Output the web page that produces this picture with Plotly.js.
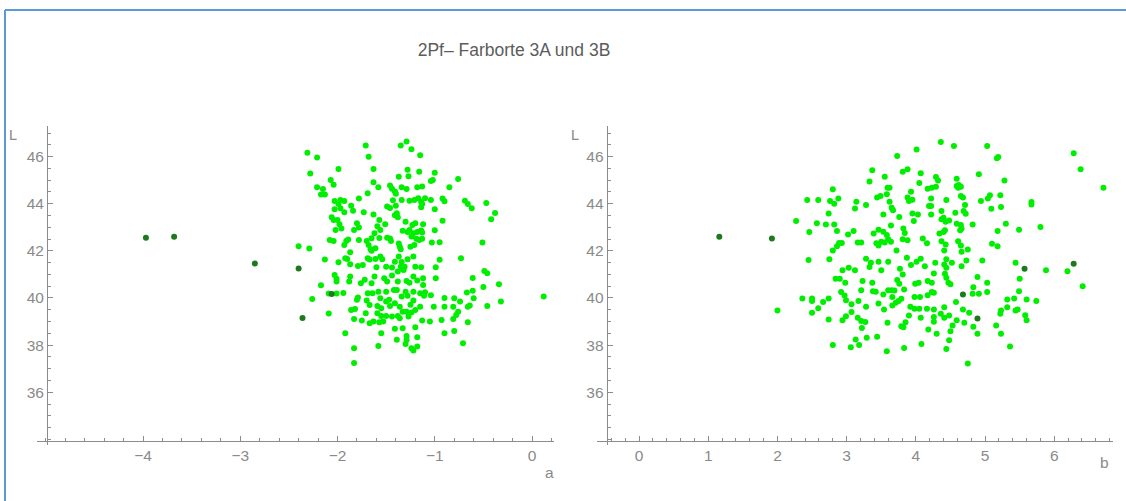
<!DOCTYPE html>
<html>
<head>
<meta charset="utf-8">
<script src="https://cdn.plot.ly/plotly-3.0.1.min.js"></script>
<style>html,body{margin:0;padding:0;background:#fff;}#chart{width:1126px;height:501px;}</style>
</head>
<body>
<div id="chart"></div>
<script>
// ---------- data: left panel (a vs L) ----------
const leftA = [
-1.29,-1.35,-1.71,-1.24,-2.31,-2.21,-1.68,-1.15,-2.28,-1.99,
-1.63,-1.28,-1.16,-1.00,-1.37,-1.27,-0.76,-2.07,-2.04,-2.21,
-2.15,-2.17,-2.13,-1.63,-1.58,-1.46,-1.44,-1.34,-1.29,-1.18,
-1.13,-1.04,-1.02,-0.85,-1.69,-1.41,-1.40,-1.78,-2.03,-1.97,
-1.93,-1.99,-1.86,-1.84,-2.03,-1.97,-1.93,-1.43,-1.34,-1.26,
-1.21,-1.17,-1.14,-1.13,-1.10,-1.04,-0.92,-0.90,-1.00,-0.69,
-0.66,-0.62,-0.47,-0.38,-0.42,-1.73,-1.63,-1.49,-1.46,-1.40,
-1.41,-1.39,-1.38,-1.14,-2.06,-2.04,-2.00,-1.98,-1.96,-2.02,
-1.83,-1.78,-1.80,-1.57,-1.51,-1.56,-1.59,-1.62,-1.65,-1.30,
-1.23,-1.20,-1.12,-1.26,-1.33,-1.28,-1.22,-1.18,-1.14,-1.13,
-0.92,-1.00,-1.24,-2.04,-2.08,-1.91,-1.89,-1.93,-1.78,-1.70,
-1.68,-1.66,-1.61,-1.57,-1.49,-1.46,-1.45,-1.37,-1.36,-1.35,
-1.19,-1.16,-1.13,-1.21,-1.25,-1.03,-0.95,-0.51,-2.40,-2.29,
-2.13,-1.99,-1.90,-1.87,-1.92,-1.87,-1.79,-1.74,-1.69,-1.65,
-1.67,-1.61,-1.56,-1.54,-1.60,-1.50,-1.44,-1.41,-1.37,-1.34,
-1.35,-1.31,-1.33,-1.28,-1.22,-1.20,-1.14,-0.99,-0.95,-0.73,
-0.49,-0.46,-2.03,-2.01,-2.01,-1.87,-1.88,-1.76,-1.72,-1.65,
-1.62,-1.52,-1.49,-1.44,-1.38,-1.38,-1.32,-1.29,-1.26,-1.22,
-1.18,-1.12,-1.12,-0.99,-0.61,-0.50,-0.34,-2.17,-2.26,-2.09,
-2.01,-1.94,-1.79,-1.69,-1.64,-1.58,-1.50,-1.42,-1.39,-1.30,
-1.22,-1.15,-1.10,-1.04,-1.80,-1.70,-1.56,-1.47,-1.34,-1.28,
-1.22,-1.11,-0.90,-0.80,-0.67,-0.61,-0.60,-0.32,0.12,-0.46,
-0.81,-1.86,-1.82,-1.71,-1.67,-1.59,-1.55,-1.50,-1.46,-1.41,
-1.36,-1.25,-1.20,-1.15,-1.01,-0.90,-0.74,-0.66,-0.64,-0.76,
-0.78,-2.09,-1.83,-1.75,-1.67,-1.63,-1.57,-1.53,-1.59,-1.55,
-1.50,-1.44,-1.38,-1.33,-1.29,-1.24,-1.27,-1.36,-1.41,-1.33,
-1.20,-1.13,-1.05,-0.93,-0.81,-0.66,-0.90,-0.80,-1.92,-1.55,
-1.39,-1.29,-1.29,-1.18,-1.30,-1.24,-1.22,-1.18,-1.58,-1.83,-1.83,-0.71
];
const leftL = [
46.64,46.47,46.47,46.31,46.16,45.96,46.00,46.06,45.28,45.48,
45.48,45.44,45.36,45.32,45.15,45.17,45.05,45.01,44.81,44.70,
44.63,44.39,44.39,44.91,44.70,44.77,44.64,44.70,44.63,44.70,
44.73,44.97,45.01,44.70,44.45,44.52,44.42,44.22,44.12,44.16,
44.12,43.99,43.92,43.70,43.77,43.81,43.64,44.15,44.16,44.13,
44.16,44.23,44.09,43.99,44.23,44.16,44.22,44.11,43.77,44.13,
43.99,43.81,44.03,43.61,43.34,43.64,43.54,43.88,43.82,43.91,
43.51,43.60,43.43,43.85,43.43,43.31,43.31,43.13,42.95,42.89,
42.89,42.99,43.17,43.31,43.13,42.89,43.04,42.75,42.54,43.24,
43.10,43.17,43.13,42.89,42.85,42.80,42.75,42.80,42.86,42.78,
43.28,42.87,42.61,42.42,42.46,42.42,42.48,42.25,42.46,42.42,
42.25,42.07,42.11,42.55,42.56,42.53,42.42,42.31,42.18,42.07,
42.51,42.46,42.51,42.25,42.18,42.35,42.37,42.35,42.20,42.10,
41.63,41.52,41.66,41.43,41.69,41.94,41.36,41.40,41.69,42.01,
41.63,41.66,41.76,41.64,41.30,41.33,41.29,41.54,41.76,41.53,
41.33,41.33,41.23,41.64,41.76,41.33,41.30,41.30,41.62,41.69,
41.15,41.05,40.98,40.82,40.70,40.91,40.70,40.63,40.77,40.63,
40.91,40.84,40.70,40.95,40.70,41.12,41.19,40.72,40.65,40.91,
40.74,40.84,40.55,40.84,40.85,40.47,40.58,40.54,39.96,40.19,
40.19,40.21,40.02,40.20,40.20,40.27,40.27,40.34,40.34,40.26,
40.26,40.20,40.24,40.12,39.92,39.89,39.99,39.92,40.06,40.10,
39.89,40.10,40.00,39.99,40.23,40.31,39.99,39.85,40.06,39.66,
39.63,39.49,39.53,39.35,39.70,39.66,39.56,39.85,39.66,39.78,
39.63,39.71,39.49,39.63,39.63,39.63,39.85,39.63,39.68,39.42,
39.28,39.34,39.11,39.04,38.93,39.00,38.97,39.00,39.35,39.24,
39.24,39.21,39.24,39.42,39.42,39.38,39.21,39.14,38.69,38.72,
38.76,39.04,39.00,39.07,39.11,38.97,38.50,38.60,38.50,38.50,
38.23,38.39,38.22,38.33,38.05,37.87,37.77,37.94,37.96,37.87,37.24,38.08
];
const leftDarkA = [-3.97,-3.68,-2.85,-2.40,-2.06,-2.36];
const leftDarkL = [42.56,42.60,41.46,41.25,40.17,39.15];

// ---------- data: right panel (b vs L) ----------
const rightB = [
4.01,3.73,3.37,3.81,3.88,4.07,3.55,3.33,4.05,2.80,
3.59,3.62,4.17,3.93,2.43,2.59,2.76,2.82,2.88,3.14,
3.28,3.44,3.49,3.58,3.62,3.88,3.90,3.95,3.12,3.65,
3.67,4.19,2.74,3.53,3.76,3.95,4.03,2.27,2.57,2.70,
2.82,3.97,3.64,3.82,2.46,2.86,3.10,3.02,3.39,3.46,
3.53,3.58,3.84,3.60,3.64,3.55,3.50,3.43,3.46,3.81,
3.88,4.10,4.16,2.89,2.93,2.86,3.16,3.21,
4.36,4.55,5.03,5.19,5.17,6.28,6.38,6.71,4.91,5.28,
4.29,4.32,4.29,4.23,4.59,4.59,4.62,4.65,4.61,4.65,
4.68,5.22,5.07,5.04,4.94,4.22,4.44,4.71,5.23,5.09,
5.67,5.67,4.22,4.22,4.37,4.40,4.37,4.43,4.48,4.57,
4.69,4.72,4.59,4.65,4.66,4.64,4.82,5.30,5.80,5.49,
5.18,4.42,4.34,4.40,4.37,4.43,4.61,4.65,5.10,5.18,
2.80,2.75,2.45,3.72,3.87,3.28,3.35,3.46,3.60,3.33,
3.93,4.01,4.07,4.13,2.94,3.03,3.12,3.50,3.77,3.81,
2.84,2.90,2.98,3.23,3.37,3.73,3.76,3.99,4.04,4.17,
3.21,3.38,3.42,3.53,3.60,3.65,3.69,3.83,2.92,2.97,
2.99,3.07,3.17,2.36,2.50,2.50,2.66,2.74,3.46,3.66,
3.75,3.79,3.66,3.71,3.98,4.06,4.17,2.00,2.50,2.59,
2.74,2.94,2.99,3.07,3.16,3.21,3.27,3.22,3.28,3.54,
3.59,3.79,3.82,3.85,3.90,3.92,3.98,4.05,4.07,4.16,
4.18,3.13,3.29,3.44,3.18,3.06,2.80,3.58,3.83,4.08,
4.41,4.66,4.75,4.96,5.44,5.88,6.19,6.41,5.50,5.49,
5.32,5.42,5.60,5.74,5.23,5.22,5.32,5.44,5.47,5.58,
5.60,5.16,5.23,5.36,5.03,5.03,4.89,4.91,4.83,4.82,
4.73,4.66,4.52,4.44,4.41,4.44,4.28,4.26,4.42,4.44,
4.47,4.50,4.23,4.23,4.26,4.58,4.26,4.41,4.36,4.41,
4.48,4.26,4.26,4.59,4.68,4.77,4.70,4.53,4.83,4.30,
4.50,4.89,4.48,4.44,4.75
];
const rightL = [
46.30,46.03,45.42,45.36,45.46,45.29,45.15,44.94,44.88,44.62,
44.68,44.68,44.64,44.51,44.16,44.16,44.12,44.00,44.22,44.09,
43.95,44.26,44.33,44.40,44.09,44.26,44.12,44.17,43.80,43.83,
43.72,43.90,43.59,43.54,43.44,43.59,43.54,43.27,43.17,43.12,
43.12,43.27,43.08,42.95,42.80,42.84,42.84,42.70,42.74,42.90,
42.81,42.67,42.76,42.49,42.39,42.35,42.39,42.32,42.23,42.49,
42.45,42.53,42.32,42.33,42.33,42.20,42.36,42.35,
46.62,46.45,46.45,45.98,45.93,46.14,45.46,44.68,45.25,44.99,
45.14,44.99,44.72,44.68,45.06,44.75,44.80,44.72,44.68,44.33,
44.26,44.36,44.36,44.22,44.12,44.22,44.16,43.95,43.86,43.79,
44.07,43.97,43.90,43.54,43.69,43.41,43.34,43.24,43.29,43.62,
43.69,43.58,43.15,43.10,42.94,42.88,43.12,43.15,43.01,42.90,
42.84,42.88,42.74,42.80,42.41,42.27,42.41,42.23,42.30,42.20,
42.02,41.64,41.61,42.02,41.71,41.67,41.50,41.54,41.54,41.31,
41.40,41.54,41.67,41.35,41.18,41.28,41.18,41.18,41.24,41.00,
40.82,40.82,40.65,40.72,40.65,40.76,40.60,40.60,40.65,40.72,
40.33,40.29,40.26,40.15,40.33,40.33,40.32,40.36,40.25,40.11,
39.90,39.73,39.87,39.98,39.98,39.87,39.83,39.98,39.77,40.04,
39.87,39.97,39.68,39.80,40.04,40.04,40.12,39.47,39.37,39.56,
39.09,39.05,39.23,39.40,39.16,39.02,38.98,38.73,39.63,39.51,
38.95,38.80,38.76,38.97,39.26,39.63,39.54,39.54,39.16,39.54,
38.66,38.24,38.31,38.35,38.00,37.91,38.00,37.74,37.88,38.05,
42.02,41.96,42.06,41.59,41.50,41.18,41.13,40.50,40.82,40.29,
39.94,39.98,39.94,39.87,39.47,39.33,39.61,39.47,39.51,39.27,
39.05,38.83,38.48,37.94,40.65,40.25,40.89,40.18,40.46,40.18,
41.59,41.35,41.50,41.64,41.42,41.28,41.50,41.04,41.03,40.86,
40.65,40.58,40.65,40.25,40.22,39.83,39.51,39.61,39.33,39.16,
39.26,39.19,38.99,39.05,39.51,39.37,38.95,38.83,38.78,38.48,
38.59,38.48,38.21,37.84,37.22
];
const rightDarkB = [1.16,1.92,6.28,5.57,4.68,4.89];
const rightDarkL = [42.60,42.53,41.45,41.24,40.15,39.13];

// ---------- tick labels ----------
const leftTicks = [-4,-3,-2,-1,0];
const rightTicks = [0,1,2,3,4,5,6];
const lTicks = [36,38,40,42,44,46];
const chartTitle = '2Pf\u2012 Farborte 3A und 3B';

// ---------- layout ----------
const W = 1126, H = 501;
const FONT = 'Liberation Sans, Arial, sans-serif';
const axisCol = '#8c8c8c';
const labCol = '#8a8a8a';
const light = '#00ee00', dark = '#1c7a1c';

function baseAxis(extra) {
  return Object.assign({
    showline: true, linecolor: axisCol, linewidth: 1,
    ticks: 'inside', ticklen: 5, tickcolor: axisCol, tickwidth: 1,
    showgrid: false, zeroline: false, fixedrange: true,
    tickfont: {family: FONT, size: 15.5, color: labCol},
    tickmode: 'array'
  }, extra);
}

const traces = [
  {x: leftA, y: leftL, xaxis: 'x', yaxis: 'y', type: 'scatter', mode: 'markers',
   marker: {size: 6, color: light}, hoverinfo: 'x+y'},
  {x: leftDarkA, y: leftDarkL, xaxis: 'x', yaxis: 'y', type: 'scatter', mode: 'markers',
   marker: {size: 6, color: dark}, hoverinfo: 'x+y'},
  {x: rightB, y: rightL, xaxis: 'x2', yaxis: 'y2', type: 'scatter', mode: 'markers',
   marker: {size: 6, color: light}, hoverinfo: 'x+y'},
  {x: rightDarkB, y: rightDarkL, xaxis: 'x2', yaxis: 'y2', type: 'scatter', mode: 'markers',
   marker: {size: 6, color: dark}, hoverinfo: 'x+y'}
];

const yDomain = [1 - 445 / H, 1 - 126 / H];
const xPos = 1 - 441 / H;

const layout = {
  width: W, height: H,
  margin: {l: 0, r: 0, t: 0, b: 0},
  paper_bgcolor: '#ffffff', plot_bgcolor: 'rgba(0,0,0,0)',
  showlegend: false,
  title: {text: chartTitle, x: 514 / W, y: 1 - 50 / H, xanchor: 'center', yanchor: 'middle',
          font: {family: FONT, size: 17.5, color: '#5c5c5c'}},
  xaxis: baseAxis({domain: [37 / W, 554 / W], range: [-5.09, 0.226], anchor: 'free', position: xPos,
    tickvals: leftTicks, minor: {ticks: 'inside', ticklen: 3, dtick: 0.2, tick0: 0, tickcolor: axisCol, showgrid: false}}),
  yaxis: baseAxis({domain: yDomain, range: [33.76, 47.30], anchor: 'free', position: 47 / W,
    tickvals: lTicks, minor: {ticks: 'inside', ticklen: 3, dtick: 0.5, tick0: 0, tickcolor: axisCol, showgrid: false}}),
  xaxis2: baseAxis({domain: [597 / W, 1113 / W], range: [-0.607, 6.848], anchor: 'free', position: xPos,
    tickvals: rightTicks, minor: {ticks: 'inside', ticklen: 3, dtick: 0.2, tick0: 0, tickcolor: axisCol, showgrid: false}}),
  yaxis2: baseAxis({domain: yDomain, range: [33.76, 47.30], anchor: 'free', position: 606.7 / W,
    tickvals: lTicks, minor: {ticks: 'inside', ticklen: 3, dtick: 0.5, tick0: 0, tickcolor: axisCol, showgrid: false}}),
  annotations: [
    {text: 'L', xref: 'paper', yref: 'paper', x: 12.5 / W, y: 1 - 135 / H, showarrow: false,
     xanchor: 'center', yanchor: 'middle', font: {family: FONT, size: 14.5, color: labCol}},
    {text: 'L', xref: 'paper', yref: 'paper', x: 575 / W, y: 1 - 135 / H, showarrow: false,
     xanchor: 'center', yanchor: 'middle', font: {family: FONT, size: 14.5, color: labCol}},
    {text: 'a', xref: 'paper', yref: 'paper', x: 549 / W, y: 1 - 472 / H, showarrow: false,
     xanchor: 'center', yanchor: 'middle', font: {family: FONT, size: 15.5, color: labCol}},
    {text: 'b', xref: 'paper', yref: 'paper', x: 1104.5 / W, y: 1 - 462 / H, showarrow: false,
     xanchor: 'center', yanchor: 'middle', font: {family: FONT, size: 15.5, color: labCol}}
  ],
  shapes: [
    {type: 'line', xref: 'paper', yref: 'paper', x0: 5 / W, x1: 1, y0: 1 - 10 / H, y1: 1 - 10 / H,
     line: {color: '#5b9bd5', width: 2}},
    {type: 'line', xref: 'paper', yref: 'paper', x0: 5 / W, x1: 5 / W, y0: 1 - 10 / H, y1: 0,
     line: {color: '#5b9bd5', width: 2}}
  ]
};

Plotly.newPlot('chart', traces, layout, {displayModeBar: false, staticPlot: true});
</script>
</body>
</html>
